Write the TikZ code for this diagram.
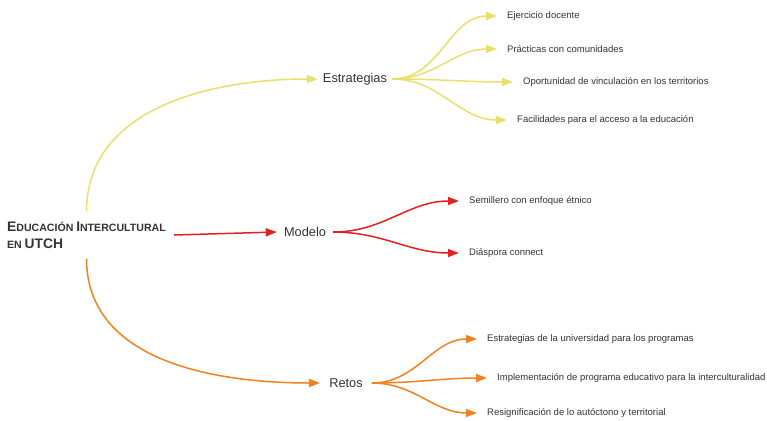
\documentclass[tikz,border=0pt]{standalone}
\usepackage{fontspec}
\setmainfont{Liberation Sans}
\usetikzlibrary{arrows.meta}
\definecolor{ramaA}{HTML}{E8E06A}
\definecolor{ramaB}{HTML}{E02222}
\definecolor{ramaC}{HTML}{F5801E}
\definecolor{letra}{HTML}{333333}
\newcommand{\capchica}[2]{{\fontsize{13.8}{14}\selectfont #1}{\fontsize{10.6}{12}\selectfont #2}}
\tikzset{
	rama/.style={line width=1.5pt,-{Triangle[length=11pt,width=8pt]}},
	tema/.style={text=letra,font=\fontsize{12.8}{14}\selectfont,inner xsep=5pt},
	hoja/.style={text=letra,font=\fontsize{9.5}{11}\selectfont,anchor=west,inner xsep=10pt},
}
\begin{document}
\begin{tikzpicture}[x=1pt,y=-1pt]
		\useasboundingbox (0,0) rectangle (767,420);
		%
		\node[text=letra,font=\bfseries,align=left,inner xsep=8pt,inner ysep=10pt] (centro) at (86.5,235)
			{\capchica{E}{DUCACIÓN} \capchica{I}{NTERCULTURAL}\\[5pt]\capchica{}{EN} \capchica{UTCH}{}};
		%
		\node[tema] (estr) at (355,79) {Estrategias};
		\node[tema,inner xsep=7pt] (mod) at (305,232) {Modelo};
		\node[tema,inner xsep=9pt] (ret) at (346,383) {Retos};
		%
		\draw[rama,ramaA] (centro.north) to[out=90,in=180] (estr.west);
		\draw[rama,ramaB] (centro.east) -- (mod.west);
		\draw[rama,ramaC] (centro.south) to[out=-90,in=180] (ret.west);
		%
		\node[hoja] (ed) at (497,16) {Ejercicio docente};
		\node[hoja] (pc) at (497,49) {Prácticas con comunidades};
		\node[hoja] (ov) at (513,82) {Oportunidad de vinculación en los territorios};
		\node[hoja] (fa) at (507,120) {Facilidades para el acceso a la educación};
		\foreach \h in {ed,pc,ov,fa}
			\draw[rama,ramaA] (estr.east) to[out=0,in=180] (\h.west);
		%
		\node[hoja] (se) at (459,201) {Semillero con enfoque étnico};
		\node[hoja] (di) at (459,253) {Diáspora connect};
		\foreach \h in {se,di}
			\draw[rama,ramaB] (mod.east) to[out=0,in=180] (\h.west);
		%
		\node[hoja] (eu) at (477,339) {Estrategias de la universidad para los programas};
		\node[hoja] (ip) at (487,378) {Implementación de programa educativo para la interculturalidad};
		\node[hoja] (re) at (477,413) {Resignificación de lo autóctono y territorial};
		\foreach \h in {eu,ip,re}
			\draw[rama,ramaC] (ret.east) to[out=0,in=180] (\h.west);
	\end{tikzpicture}
\end{document}
